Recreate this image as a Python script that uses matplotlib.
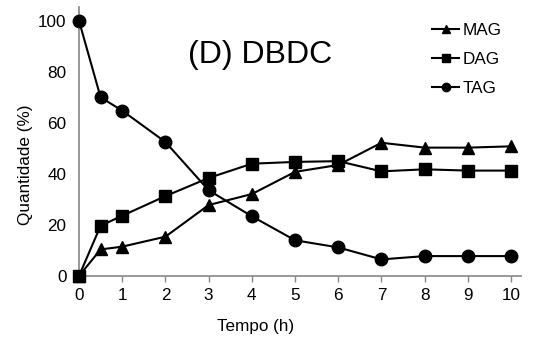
import matplotlib
matplotlib.use("Agg")
import matplotlib.pyplot as plt
from matplotlib.lines import Line2D

plt.rcParams['font.family'] = ['Liberation Sans', 'DejaVu Sans']

tempo = [0, 0.5, 1, 2, 3, 4, 5, 6, 7, 8, 9, 10]
mag = [0, 10.4, 11.5, 15.4, 27.8, 32.1, 40.8, 43.5, 52.2, 50.3, 50.3, 50.8]
dag = [0, 19.7, 23.6, 31.3, 38.4, 44.0, 44.7, 45.0, 41.0, 41.8, 41.3, 41.3]
tag = [100, 70.0, 64.8, 52.5, 33.6, 23.4, 14.0, 11.2, 6.5, 7.8, 7.8, 7.8]

x_ticks = list(range(0, 11))
y_ticks = [0, 20, 40, 60, 80, 100]

fig = plt.figure(figsize=(5.34, 3.40), dpi=100)
ax = fig.add_axes([79 / 534, 1 - 276 / 340, (521 - 79) / 534, (276 - 7) / 340])

series = [("MAG", mag, "^", 8.5), ("DAG", dag, "s", 8.5), ("TAG", tag, "o", 9)]
for name, vals, mk, ms in series:
    ax.plot(tempo, vals, color="black", lw=1.5, marker=mk, markersize=ms,
            clip_on=False, zorder=3)

ax.set_xlim(0, 10.23)
ax.set_ylim(0, 105.4)
ax.set_xticks(x_ticks)
ax.set_yticks(y_ticks)
ax.tick_params(axis="both", labelsize=12.3, colors="#868686", labelcolor="black")
ax.tick_params(axis="x", direction="out", length=4, width=1, pad=5)
ax.tick_params(axis="y", direction="out", length=0, width=1, pad=9)

for s in ("top", "right"):
    ax.spines[s].set_visible(False)
for s in ("left", "bottom"):
    ax.spines[s].set_color("#868686")
    ax.spines[s].set_linewidth(1.2)

ax.set_xlabel("Tempo (h)", fontsize=12.3)
ax.xaxis.set_label_coords((256 - 79) / 442, -0.16)
ax.set_ylabel("Quantidade (%)", fontsize=12.3)
ax.yaxis.set_label_coords((33 - 79) / 442, (276 - 165) / 269)

ax.text(4.2, 86.5, "(D) DBDC", fontsize=23, ha="center", va="center")

handles = [Line2D([], [], color="black", lw=1.5, marker=mk, markersize=6)
           for _, _, mk, _ in series]
ax.legend(handles, [s[0] for s in series], loc="upper left",
          bbox_to_anchor=((432 - 79) / 442, (276 - 23) / 269), frameon=False,
          fontsize=12.3, handlelength=1.6, handletextpad=0.17,
          labelspacing=0.82, borderaxespad=0, borderpad=0)

fig.savefig("out.png", dpi=100)
